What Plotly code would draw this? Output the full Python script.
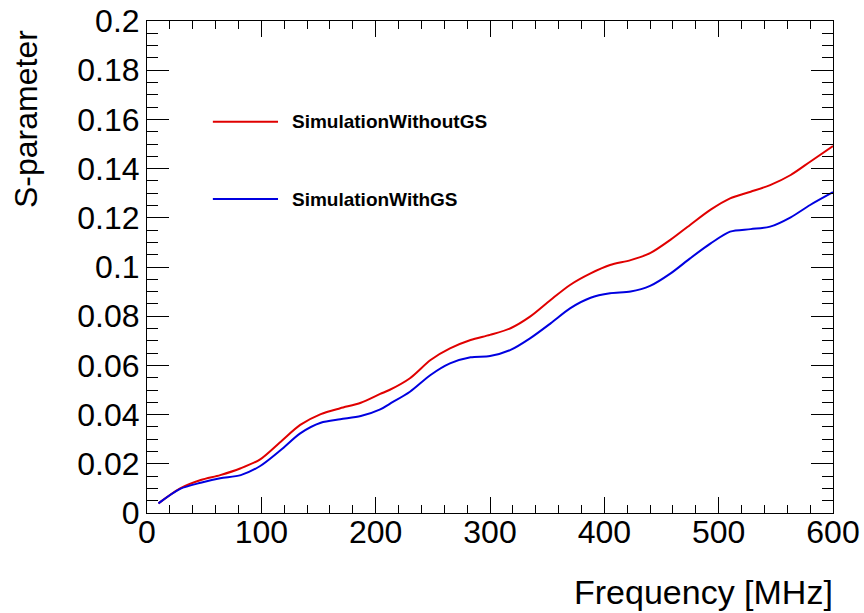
import plotly.graph_objects as go

# Data
freq_mhz = [10, 29, 47, 64, 82, 99, 117, 134, 152, 169, 187, 204, 212, 230, 248,
            265, 283, 300, 318, 335, 353, 370, 388, 405, 423, 440, 458, 475, 493,
            510, 528, 545, 563, 580, 600]
s_without_gs = [0.0039, 0.0100, 0.0134, 0.0154, 0.0182, 0.0218, 0.0290, 0.0358,
                0.0402, 0.0426, 0.0448, 0.0484, 0.0500, 0.0548, 0.0622, 0.0669,
                0.0703, 0.0724, 0.0751, 0.0798, 0.0866, 0.0927, 0.0974, 0.1008,
                0.1028, 0.1056, 0.1111, 0.1171, 0.1233, 0.1279, 0.1306, 0.1333,
                0.1374, 0.1428, 0.1492]
s_with_gs = [0.0039, 0.0098, 0.0123, 0.0141, 0.0154, 0.0191, 0.0256, 0.0324,
             0.0367, 0.0381, 0.0394, 0.0421, 0.0443, 0.0493, 0.0561, 0.0608,
             0.0633, 0.0638, 0.0663, 0.0710, 0.0771, 0.0832, 0.0875, 0.0893,
             0.0900, 0.0923, 0.0974, 0.1035, 0.1096, 0.1144, 0.1154, 0.1164,
             0.1202, 0.1252, 0.1304]

series_names = ["SimulationWithoutGS", "SimulationWithGS"]
series_colors = ["#e00000", "#0000e0"]

x_tickvals = [0, 100, 200, 300, 400, 500, 600]
x_ticktext = ["0", "100", "200", "300", "400", "500", "600"]
y_tickvals = [0, 0.02, 0.04, 0.06, 0.08, 0.1, 0.12, 0.14, 0.16, 0.18, 0.2]
y_ticktext = ["0", "0.02", "0.04", "0.06", "0.08", "0.1", "0.12", "0.14",
              "0.16", "0.18", "0.2"]

FONT = "Liberation Sans, Arial, sans-serif"

fig = go.Figure()
for name, ys, col in zip(series_names, [s_without_gs, s_with_gs], series_colors):
    fig.add_trace(go.Scatter(x=freq_mhz, y=ys, mode="lines", name=name,
                             line=dict(color=col, width=2, shape="spline", smoothing=0.8),
                             showlegend=False))

axis_common = dict(showgrid=False, zeroline=False, showline=True, linecolor="black",
                   linewidth=1, mirror="ticks", ticks="inside", tickcolor="black",
                   tickwidth=1, tickfont=dict(family=FONT, size=32, color="black"))

fig.update_xaxes(range=[0, 600], tickvals=x_tickvals, ticktext=x_ticktext, ticklen=16,
                 ticklabelstandoff=-9,
                 minor=dict(dtick=20, tick0=0, ticks="inside", ticklen=8,
                            tickcolor="black", tickwidth=1, showgrid=False),
                 **axis_common)
fig.update_yaxes(range=[0, 0.2], tickvals=y_tickvals, ticktext=y_ticktext, ticklen=22,
                 minor=dict(dtick=0.005, tick0=0, ticks="inside", ticklen=11,
                            tickcolor="black", tickwidth=1, showgrid=False),
                 **axis_common)

annotations = [
    dict(text="Frequency [MHz]", xref="paper", yref="paper", x=1, y=0,
         xanchor="right", yanchor="top", xshift=2, yshift=-58, showarrow=False,
         font=dict(family=FONT, size=34, color="black")),
    dict(text="S-parameter", xref="paper", yref="paper", x=0, y=1,
         xanchor="right", yanchor="top", xshift=-101, yshift=-7, showarrow=False,
         textangle=-90, font=dict(family=FONT, size=32, color="black")),
]
shapes = []
leg_y = [0.795, 0.638]
for name, col, ly in zip(series_names, series_colors, leg_y):
    shapes.append(dict(type="line", xref="paper", yref="paper", x0=0.096, x1=0.191,
                       y0=ly, y1=ly, line=dict(color=col, width=2)))
    annotations.append(dict(text="<b>" + name + "</b>", xref="paper", yref="paper",
                            x=0.208, y=ly, xanchor="left", yanchor="middle",
                            showarrow=False,
                            font=dict(family=FONT, size=19, color="black")))

fig.update_layout(width=864, height=613, paper_bgcolor="white", plot_bgcolor="white",
                  margin=dict(l=147, r=31, t=21, b=100, autoexpand=False),
                  annotations=annotations, shapes=shapes, showlegend=False)

fig.write_html("out.html", config={"displayModeBar": False},
               post_script="document.body.style.margin='0';document.body.style.overflow='hidden';")
